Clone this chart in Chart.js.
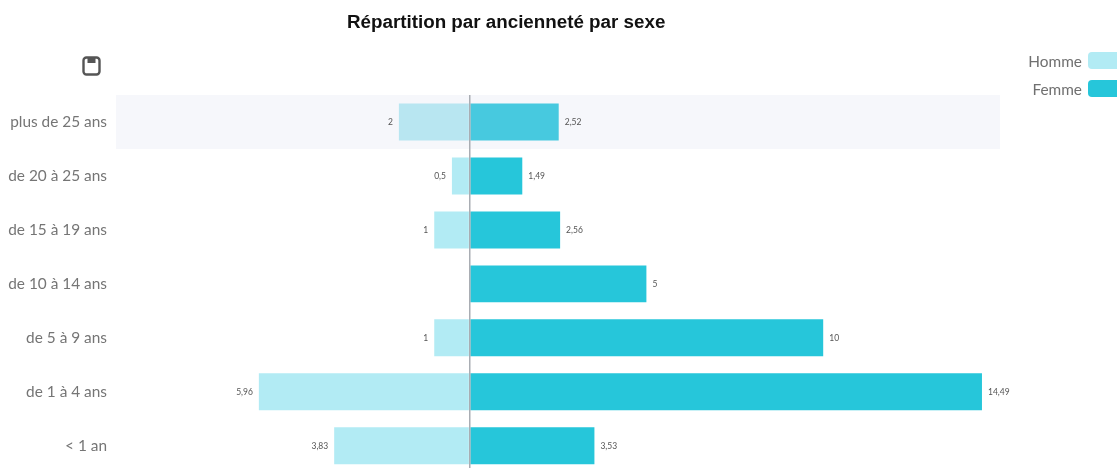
<!DOCTYPE html>
<html lang="fr">
<head>
<meta charset="utf-8">
<title>Répartition par ancienneté par sexe</title>
<script src="https://cdn.jsdelivr.net/npm/chart.js@4/dist/chart.umd.min.js"></script>
<style>
    html, body { margin: 0; padding: 0; width: 1117px; height: 468px; overflow: hidden; background: #fff; }
    #wrap { position: relative; width: 1117px; height: 468px; overflow: hidden; }
    #chart { position: absolute; left: 0; top: 0; }
    #title { position: absolute; left: 347px; top: 11px; font: bold 18.8px "Liberation Sans", Arial, sans-serif; color: #111; white-space: nowrap; }
    #save { position: absolute; left: 81px; top: 55px; }
    .legend-row { position: absolute; right: 0; height: 17px; display: flex; align-items: center; font: 15.4px Lato, sans-serif; color: #707070; }
    .legend-row span { margin-right: 6px; }
    .legend-row i { display: block; width: 29px; height: 17px; border-radius: 4px 0 0 4px; }
</style>
</head>
<body>
<div id="wrap">
    <canvas id="chart" width="1117" height="491"></canvas>
    <div id="title">Répartition par ancienneté par sexe</div>
    <svg id="save" width="21" height="22" viewBox="0 0 21 22">
        <rect x="2.5" y="2.5" width="16" height="17" rx="3" fill="none" stroke="#555" stroke-width="2.4"/>
        <rect x="6.5" y="3" width="8" height="5" fill="#555"/>
    </svg>
    <div id="legend"></div>
</div>
<script>
// Chart data
const categories = ['plus de 25 ans', 'de 20 à 25 ans', 'de 15 à 19 ans', 'de 10 à 14 ans', 'de 5 à 9 ans', 'de 1 à 4 ans', '< 1 an'];
const hommeValues = [-2, -0.5, -1, null, -1, -5.96, -3.83];
const femmeValues = [2.52, 1.49, 2.56, 5, 10, 14.49, 3.53];

const hommeColor = '#b2ebf4';
const femmeColor = '#26c6da';
const highlightedRow = 0;

// First row is shown in its hovered state in the original
function rowColors(values, color, hoverColor) {
    return values.map((v, i) => i === highlightedRow ? hoverColor : color);
}

// Band behind the highlighted row
const rowBand = {
    id: 'rowBand',
    beforeDatasetsDraw(chart) {
        const { ctx, chartArea, scales } = chart;
        const rowHeight = scales.y.height / categories.length;
        const center = scales.y.getPixelForValue(highlightedRow);
        ctx.save();
        ctx.fillStyle = '#f6f7fb';
        ctx.fillRect(chartArea.left, center - rowHeight / 2, chartArea.width, rowHeight);
        ctx.restore();
    }
};

// Small value labels next to the bar ends
const valueLabels = {
    id: 'valueLabels',
    afterDatasetsDraw(chart) {
        const ctx = chart.ctx;
        ctx.save();
        ctx.font = '8.5px Lato, sans-serif';
        ctx.fillStyle = '#555';
        ctx.textBaseline = 'middle';
        chart.data.datasets.forEach((dataset, d) => {
            chart.getDatasetMeta(d).data.forEach((bar, i) => {
                const value = dataset.data[i];
                if (value === null) return;
                const text = String(Math.abs(value)).replace('.', ',');
                ctx.textAlign = value < 0 ? 'right' : 'left';
                ctx.fillText(text, bar.x + (value < 0 ? -6 : 6), bar.y);
            });
        });
        ctx.restore();
    }
};

const chart = new Chart(document.getElementById('chart').getContext('2d'), {
    type: 'bar',
    data: {
        labels: categories,
        datasets: [
            { label: 'Homme', data: hommeValues, backgroundColor: rowColors(hommeValues, hommeColor, '#b8e6f1') },
            { label: 'Femme', data: femmeValues, backgroundColor: rowColors(femmeValues, femmeColor, '#47c9df') }
        ]
    },
    options: {
        indexAxis: 'y',
        responsive: false,
        animation: false,
        events: [],
        barPercentage: 0.685,
        categoryPercentage: 1,
        layout: { padding: { left: 0, right: 117, top: 95, bottom: 8 } },
        plugins: {
            legend: { display: false },
            title: { display: false },
            tooltip: { enabled: false }
        },
        scales: {
            x: {
                stacked: true,
                min: -10,
                max: 15,
                afterFit: scale => { scale.height = 0; },
                ticks: { display: false },
                border: { display: false },
                grid: {
                    z: 1,
                    drawTicks: false,
                    lineWidth: 1.5,
                    color: ctx => ctx.tick && ctx.tick.value === 0 ? '#a9adb3' : 'transparent'
                }
            },
            y: {
                stacked: true,
                afterFit: scale => { scale.width = 116; },
                border: { display: false },
                grid: { display: false, drawTicks: false },
                ticks: { color: '#757575', padding: 9, font: { family: 'Lato', size: 15.4 } }
            }
        }
    },
    plugins: [rowBand, valueLabels]
});

// Legend
const legendEl = document.getElementById('legend');
chart.data.datasets.forEach((dataset, i) => {
    const row = document.createElement('div');
    row.className = 'legend-row';
    row.style.top = (52 + i * 28) + 'px';
    row.innerHTML = `<span>${dataset.label}</span><i style="background:${i === 0 ? hommeColor : femmeColor}"></i>`;
    legendEl.appendChild(row);
});
</script>
</body>
</html>
